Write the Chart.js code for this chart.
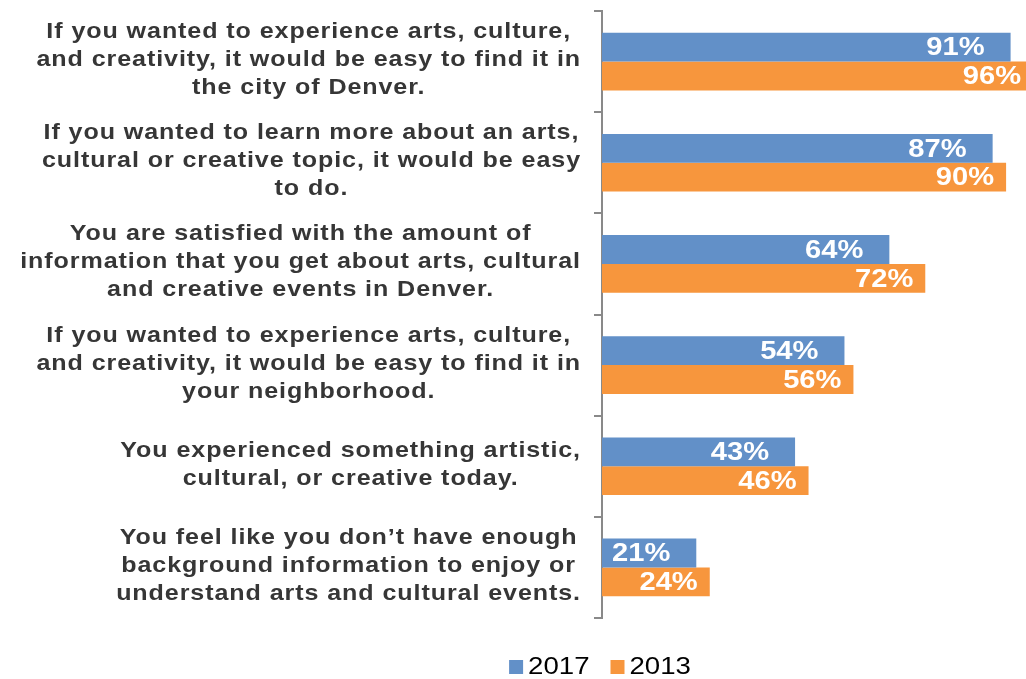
<!DOCTYPE html>
<html>
<head>
<meta charset="utf-8">
<script src="https://cdn.jsdelivr.net/npm/chart.js@4.4.1/dist/chart.umd.min.js"></script>
<style>
  html, body { margin: 0; padding: 0; background: #fff; overflow: hidden; width: 1026px; height: 679px; }
  #wrap { width: 1052px; height: 679px; }
</style>
</head>
<body>
<div id="wrap"><canvas id="c" width="1052" height="679"></canvas></div>
<script>
// Survey statements (each entry is the list of wrapped lines)
const categories = [
  ['If you wanted to experience arts, culture,', 'and creativity, it would be easy to find it in', 'the city of Denver.'],
  ['If you wanted to learn more about an arts,', 'cultural or creative topic, it would be easy', 'to do.'],
  ['You are satisfied with the amount of', 'information that you get about arts, cultural', 'and creative events in Denver.'],
  ['If you wanted to experience arts, culture,', 'and creativity, it would be easy to find it in', 'your neighborhood.'],
  ['You experienced something artistic,', 'cultural, or creative today.'],
  ['You feel like you don\u2019t have enough', 'background information to enjoy or', 'understand arts and cultural events.']
];
const values2017 = [91, 87, 64, 54, 43, 21];
const values2013 = [96, 90, 72, 56, 46, 24];
const seriesNames = ['2017', '2013'];
const seriesColors = ['#6290c8', '#f7963d'];

const FONT = '"Liberation Sans", Arial, sans-serif';

// Text drawn with a slight horizontal stretch (wide typesetting)
function wideText(ctx, text, x, y, sx) {
  ctx.save();
  ctx.translate(x, y);
  ctx.scale(sx, 1);
  ctx.fillText(text, 0, 0);
  ctx.restore();
}

// Multi-line statements: each block is centred on itself, blocks share a right edge
const statementLabels = {
  id: 'statementLabels',
  afterDraw(chart) {
    const ctx = chart.ctx;
    const yScale = chart.scales.y;
    const rightEdge = 581;
    const lineH = 28;
    const sx = 1.14;
    ctx.save();
    ctx.font = 'bold 22px ' + FONT;
    ctx.letterSpacing = '0.8px';
    ctx.fillStyle = '#363636';
    ctx.textAlign = 'center';
    ctx.textBaseline = 'middle';
    chart.data.labels.forEach((lines, i) => {
      const cy = yScale.getPixelForValue(i) - 1.5;
      let widest = 0;
      lines.forEach(l => { widest = Math.max(widest, ctx.measureText(l).width * sx); });
      const cx = rightEdge - widest / 2;
      const top = cy - (lines.length - 1) * lineH / 2;
      lines.forEach((l, k) => wideText(ctx, l, cx, top + k * lineH, sx));
    });
    ctx.restore();
  }
};

// Percent labels inside the end of each bar
const barValueLabels = {
  id: 'barValueLabels',
  afterDatasetsDraw(chart) {
    const ctx = chart.ctx;
    const insets = [26, 12];
    ctx.save();
    ctx.font = 'bold 26px ' + FONT;
    ctx.fillStyle = '#ffffff';
    ctx.textAlign = 'right';
    ctx.textBaseline = 'middle';
    chart.data.datasets.forEach((ds, di) => {
      chart.getDatasetMeta(di).data.forEach((bar, i) => {
        wideText(ctx, ds.data[i] + '%', bar.x - insets[di], bar.y + 1, 1.12);
      });
    });
    ctx.restore();
  }
};

// Legend row under the plot
const bottomLegend = {
  id: 'bottomLegend',
  afterDraw(chart) {
    const ctx = chart.ctx;
    const y = 667;
    const box = 14;
    const gapBoxText = 5;
    const gapItems = 21;
    const sx = 1.2;
    ctx.save();
    ctx.font = '23px ' + FONT;
    ctx.textBaseline = 'middle';
    ctx.textAlign = 'left';
    const items = chart.data.datasets.map(ds => ({ text: ds.label, color: ds.backgroundColor }));
    const widths = items.map(it => box + gapBoxText + ctx.measureText(it.text).width * sx);
    const total = widths.reduce((a, b) => a + b, 0) + gapItems * (items.length - 1);
    let x = 600 - total / 2;
    items.forEach((it, i) => {
      ctx.fillStyle = it.color;
      ctx.fillRect(x, y - 7, box, box);
      ctx.fillStyle = '#000000';
      wideText(ctx, it.text, x + box + gapBoxText, y + 1, sx);
      x += widths[i] + gapItems;
    });
    ctx.restore();
  }
};

new Chart(document.getElementById('c'), {
  type: 'bar',
  data: {
    labels: categories,
    datasets: [
      { label: seriesNames[0], data: values2017, backgroundColor: seriesColors[0] },
      { label: seriesNames[1], data: values2013, backgroundColor: seriesColors[1] }
    ]
  },
  options: {
    indexAxis: 'y',
    responsive: false,
    animation: false,
    events: [],
    layout: { padding: { top: 11, bottom: 61, left: 0, right: 1 } },
    datasets: { bar: { categoryPercentage: 0.57, barPercentage: 1.0, borderWidth: 0 } },
    scales: {
      x: { display: false, min: 0, max: 100 },
      y: {
        ticks: { display: false },
        grid: {
          display: true, offset: true, drawOnChartArea: false, drawTicks: true,
          tickLength: 8, color: '#898989', lineWidth: 2
        },
        border: { display: true, color: '#898989', width: 2 },
        afterFit(scale) { scale.width = 602; }
      }
    },
    plugins: { legend: { display: false }, tooltip: { enabled: false } }
  },
  plugins: [statementLabels, barValueLabels, bottomLegend]
});
</script>
</body>
</html>
